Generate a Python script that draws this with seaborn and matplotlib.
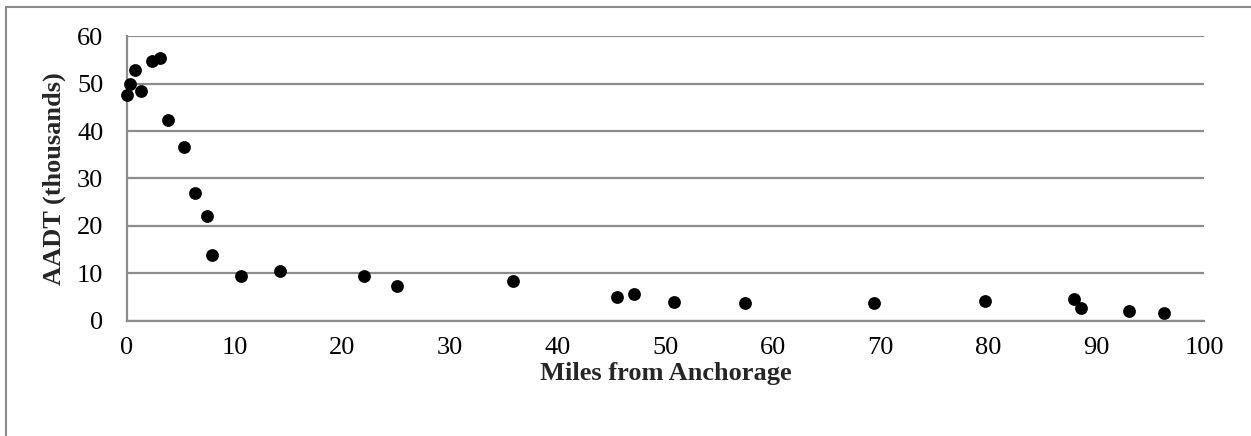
import matplotlib
matplotlib.use("Agg")
import matplotlib.pyplot as plt
import seaborn as sns
import pandas as pd
from matplotlib.lines import Line2D

# miles from Anchorage and AADT (thousands)
miles = [0.0, 0.25, 0.7, 1.3, 2.3, 3.1, 3.8, 5.3, 6.3, 7.4, 7.9, 10.6, 14.2,
         22.0, 25.1, 35.8, 45.5, 47.1, 50.8, 57.4, 69.4, 79.7, 87.9, 88.6,
         93.0, 96.3]
aadt = [47.5, 50.0, 52.8, 48.4, 54.7, 55.4, 42.3, 36.7, 26.9, 22.1, 13.9, 9.5,
        10.5, 9.4, 7.4, 8.5, 5.0, 5.7, 4.0, 3.7, 3.7, 4.3, 4.6, 2.7, 2.0, 1.6]

x_ticks = [0, 10, 20, 30, 40, 50, 60, 70, 80, 90, 100]
y_ticks = [0, 10, 20, 30, 40, 50, 60]

df = pd.DataFrame({"miles": miles, "aadt": aadt})

sns.set_theme(style="white")
plt.rcParams['font.family'] = ['Liberation Serif', 'DejaVu Serif']

grey = "#8c8c8c"

fig = plt.figure(figsize=(12.51, 4.36), dpi=100)
ax = fig.add_axes([0.1015, 0.2638, 0.8609, 0.6536])

sns.scatterplot(data=df, x="miles", y="aadt", ax=ax, color="black",
                s=85, edgecolor="black", linewidth=0, zorder=3, clip_on=False)

ax.set_xlim(0, 100)
ax.set_ylim(0, 60)
ax.set_xticks(x_ticks)
ax.set_yticks(y_ticks)
ax.tick_params(axis="both", labelsize=19, colors=grey, labelcolor="black",
               width=1.5, direction="out")
ax.tick_params(axis="x", length=5, pad=6.5)
ax.tick_params(axis="y", length=6, pad=11)

ax.yaxis.grid(True, color=grey, linewidth=1.6)
ax.set_axisbelow(True)
for side in ["top", "right"]:
    ax.spines[side].set_visible(False)
for side in ["left", "bottom"]:
    ax.spines[side].set_color(grey)
    ax.spines[side].set_linewidth(1.6)

ax.set_xlabel("Miles from Anchorage", fontsize=19, fontweight="bold", labelpad=2)
ax.set_ylabel("AADT (thousands)", fontsize=19, fontweight="bold", labelpad=8)

# chart frame, only left and top edges show in the picture
fig.add_artist(Line2D([5.5 / 1251, 5.5 / 1251], [0, 1 - 7 / 436],
                      transform=fig.transFigure, color=grey, linewidth=1.5))
fig.add_artist(Line2D([5.5 / 1251, 1], [1 - 7 / 436, 1 - 7 / 436],
                      transform=fig.transFigure, color=grey, linewidth=1.5))

fig.savefig("out.png", dpi=100)
